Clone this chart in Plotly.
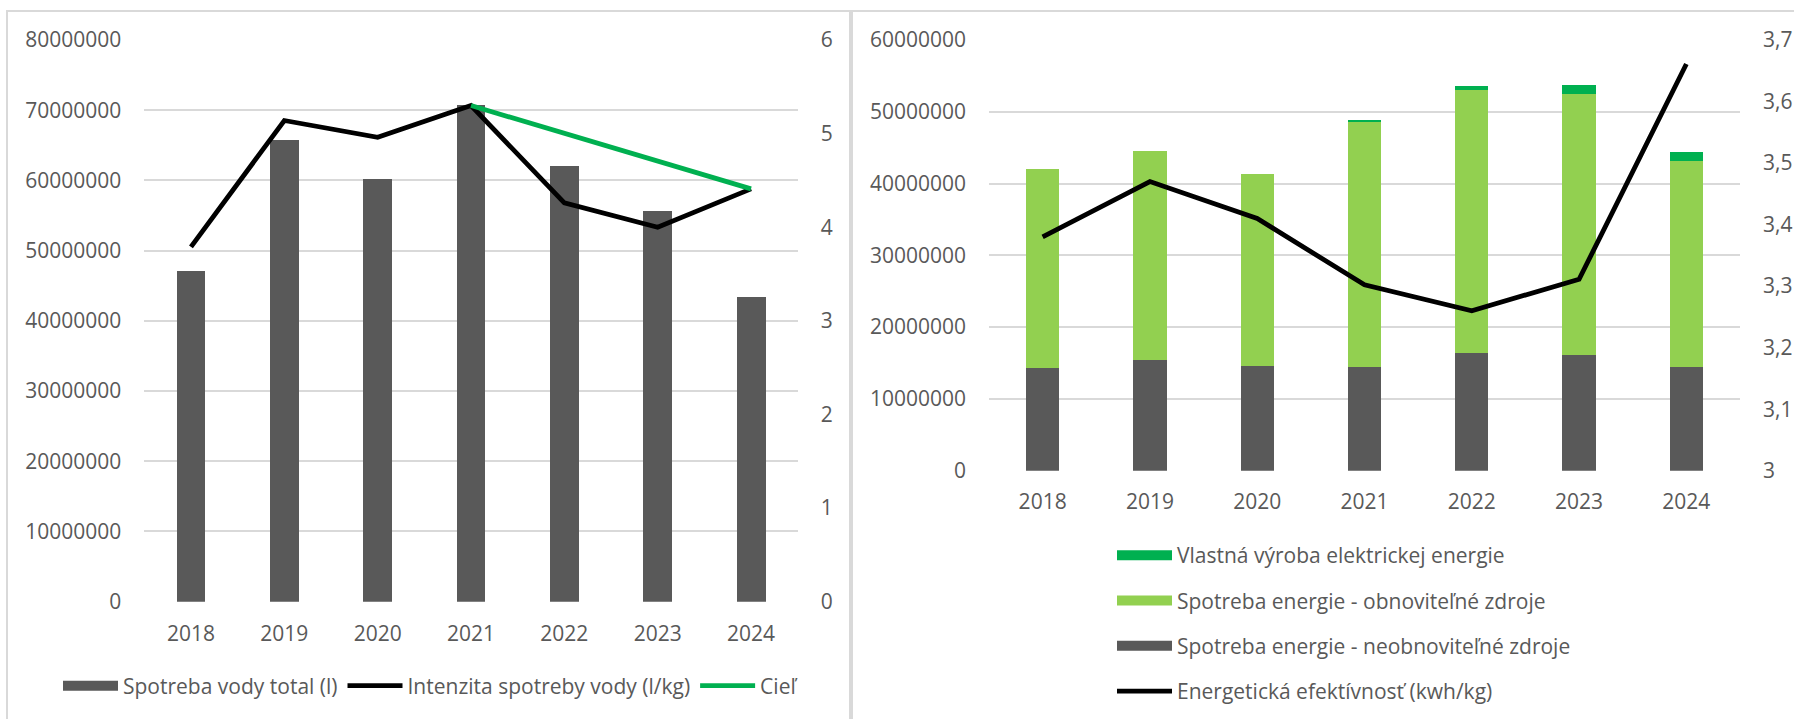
import plotly.graph_objects as go

# ---------------- data ----------------
years = ["2018", "2019", "2020", "2021", "2022", "2023", "2024"]

# left chart
voda_total = [47.15e6, 65.8e6, 60.2e6, 70.75e6, 62.1e6, 55.6e6, 43.4e6]
intenzita_vody = [3.79, 5.14, 4.96, 5.30, 4.26, 4.00, 4.41]
ciel = [None, None, None, 5.30, None, None, 4.41]

# right chart
neobnovitelne = [14.35e6, 15.46e6, 14.62e6, 14.44e6, 16.43e6, 16.16e6, 14.48e6]
obnovitelne = [27.63e6, 29.02e6, 26.68e6, 34.16e6, 36.57e6, 36.34e6, 28.65e6]
vlastna_vyroba = [0, 0, 0, 0.15e6, 0.58e6, 1.18e6, 1.22e6]
energ_efektivnost = [3.38, 3.47, 3.41, 3.302, 3.26, 3.311, 3.661]

# ---------------- style ----------------
W, H = 1794, 719
FONT = "Open Sans"
FS = 21
TXT = "#595959"
GRID = "#D9D9D9"
DARK = "#595959"
LGREEN = "#92D050"
DGREEN = "#00B050"
LW = 4.8


def px_x(v):
    return v / W


def px_y(v):
    return 1 - v / H


fig = go.Figure()


def bar_legend_proxy(name, color, legend, group, rank=None):
    # legend-only entry drawn as a wide block, like the original legend keys
    return go.Scatter(x=[None], y=[None], name=name, mode="lines",
                      line=dict(color=color, width=14), legend=legend,
                      legendgroup=group, legendrank=rank, hoverinfo="skip",
                      xaxis="x2" if legend == "legend2" else "x",
                      yaxis="y3" if legend == "legend2" else "y")


# ---- left chart ----
fig.add_trace(go.Bar(x=years, y=voda_total, name="Spotreba vody total (l)",
                     marker=dict(color=DARK, line=dict(width=0)), width=0.31,
                     xaxis="x", yaxis="y", legend="legend", legendgroup="voda",
                     showlegend=False))
fig.add_trace(bar_legend_proxy("Spotreba vody total (l)", DARK, "legend", "voda", 1))
fig.add_trace(go.Scatter(x=years, y=intenzita_vody, name="Intenzita spotreby vody (l/kg)",
                         mode="lines", line=dict(color="black", width=LW),
                         xaxis="x", yaxis="y2", legend="legend", legendrank=2))
fig.add_trace(go.Scatter(x=years, y=ciel, name="Cieľ", mode="lines", connectgaps=True,
                         line=dict(color=DGREEN, width=LW),
                         xaxis="x", yaxis="y2", legend="legend", legendrank=3))

# ---- right chart ----
fig.add_trace(go.Bar(x=years, y=neobnovitelne, name="Spotreba energie - neobnoviteľné zdroje",
                     marker=dict(color=DARK, line=dict(width=0)), width=0.31,
                     xaxis="x2", yaxis="y3", legend="legend2", legendgroup="c",
                     showlegend=False))
fig.add_trace(go.Bar(x=years, y=obnovitelne, name="Spotreba energie - obnoviteľné zdroje",
                     marker=dict(color=LGREEN, line=dict(width=0)), width=0.31,
                     xaxis="x2", yaxis="y3", legend="legend2", legendgroup="b",
                     showlegend=False))
fig.add_trace(go.Bar(x=years, y=vlastna_vyroba, name="Vlastná výroba elektrickej energie",
                     marker=dict(color=DGREEN, line=dict(width=0)), width=0.31,
                     xaxis="x2", yaxis="y3", legend="legend2", legendgroup="a",
                     showlegend=False))
fig.add_trace(bar_legend_proxy("Vlastná výroba elektrickej energie", DGREEN, "legend2", "a", 1))
fig.add_trace(bar_legend_proxy("Spotreba energie - obnoviteľné zdroje", LGREEN, "legend2", "b", 2))
fig.add_trace(bar_legend_proxy("Spotreba energie - neobnoviteľné zdroje", DARK, "legend2", "c", 3))
fig.add_trace(go.Scatter(x=years, y=energ_efektivnost, name="Energetická efektívnosť (kwh/kg)",
                         mode="lines", line=dict(color="black", width=LW),
                         xaxis="x2", yaxis="y4", legend="legend2", legendgroup="d", legendrank=4))

tickfont = dict(family=FONT, size=FS, color=TXT)
common = dict(automargin=False, fixedrange=True, showline=False, ticks="",
              tickfont=tickfont, zeroline=False)

fig.update_layout(
    width=W, height=H,
    margin=dict(l=0, r=0, t=0, b=0, autoexpand=False),
    paper_bgcolor="white", plot_bgcolor="white",
    barmode="stack",
    separators=", ",
    font=dict(family=FONT, size=FS, color=TXT),
    xaxis=dict(domain=[px_x(144.3), px_x(797.7)], anchor="y", type="category",
               showgrid=False, ticklabelstandoff=17, **common),
    yaxis=dict(domain=[px_y(601.7), px_y(40)], anchor="x", range=[0, 80e6], dtick=10e6,
               tickformat=".0f", showgrid=True, gridcolor=GRID, gridwidth=2,
               ticklabelstandoff=22, **common),
    yaxis2=dict(overlaying="y", anchor="x", side="right", range=[0, 6], dtick=1,
                showgrid=False, ticklabelstandoff=22, **common),
    xaxis2=dict(domain=[px_x(989), px_x(1740)], anchor="y3", type="category",
                showgrid=False, ticklabelstandoff=16, **common),
    yaxis3=dict(domain=[px_y(470.7), px_y(40)], anchor="x2", range=[0, 60e6], dtick=10e6,
                tickformat=".0f", showgrid=True, gridcolor=GRID, gridwidth=2,
                ticklabelstandoff=22, **common),
    yaxis4=dict(overlaying="y3", anchor="x2", side="right", range=[3, 3.7], dtick=0.1,
                tickformat=".2~g", showgrid=False, ticklabelstandoff=22, **common),
    legend=dict(orientation="h", x=px_x(58), xanchor="left", y=px_y(686), yanchor="middle",
                font=dict(family=FONT, size=FS, color=TXT), itemwidth=55,
                bgcolor="rgba(0,0,0,0)", traceorder="normal"),
    legend2=dict(orientation="v", x=px_x(1112), xanchor="left", y=px_y(535), yanchor="top",
                 font=dict(family=FONT, size=FS, color=TXT), itemwidth=55,
                 bgcolor="rgba(0,0,0,0)", traceorder="grouped", tracegroupgap=15),
    shapes=[
        dict(type="rect", xref="paper", yref="paper",
             x0=px_x(7), x1=px_x(850), y0=-0.05, y1=px_y(11),
             line=dict(color=GRID, width=2), layer="below"),
        dict(type="rect", xref="paper", yref="paper",
             x0=px_x(852), x1=1.05, y0=-0.05, y1=px_y(11),
             line=dict(color=GRID, width=2), layer="below"),
    ],
)

fig.write_html("out.html")
